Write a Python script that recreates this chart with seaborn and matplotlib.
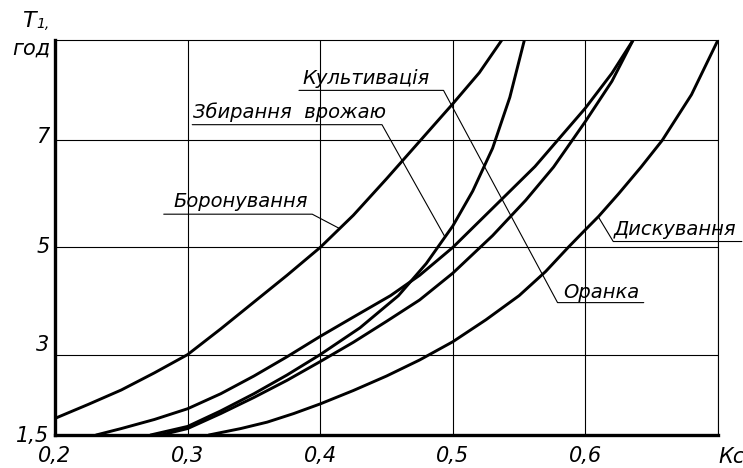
import matplotlib
matplotlib.use('Agg')
import matplotlib.pyplot as plt
import matplotlib.transforms as mtransforms
import seaborn as sns
import pandas as pd

# curves: Kc -> T1 (years)
boron_kc = [0.2, 0.225, 0.25, 0.275, 0.3, 0.325, 0.35, 0.375, 0.4, 0.425,
            0.45, 0.475, 0.5, 0.52, 0.537]
boron_t = [1.81, 2.07, 2.34, 2.66, 3.0, 3.48, 3.98, 4.48, 5.0, 5.6,
           6.28, 6.98, 7.68, 8.26, 8.87]

zbyr_kc = [0.272, 0.3, 0.325, 0.35, 0.375, 0.4, 0.43, 0.459, 0.48, 0.5,
           0.515, 0.53, 0.543, 0.554]
zbyr_t = [1.5, 1.66, 1.95, 2.27, 2.62, 3.0, 3.5, 4.1, 4.7, 5.4,
          6.05, 6.85, 7.8, 8.87]

kult_kc = [0.231, 0.25, 0.275, 0.3, 0.325, 0.35, 0.375, 0.4, 0.425, 0.453,
           0.475, 0.5, 0.53, 0.562, 0.6, 0.62, 0.636]
kult_t = [1.5, 1.62, 1.79, 1.99, 2.27, 2.6, 2.96, 3.34, 3.7, 4.1,
          4.48, 5.0, 5.73, 6.51, 7.6, 8.25, 8.87]

oran_kc = [0.28, 0.3, 0.325, 0.35, 0.375, 0.4, 0.425, 0.45, 0.475, 0.5,
           0.53, 0.555, 0.576, 0.6, 0.62, 0.636]
oran_t = [1.5, 1.62, 1.9, 2.2, 2.52, 2.87, 3.23, 3.62, 4.02, 4.52,
          5.22, 5.88, 6.5, 7.35, 8.1, 8.87]

dysk_kc = [0.316, 0.34, 0.36, 0.38, 0.4, 0.425, 0.45, 0.475, 0.5, 0.525,
           0.55, 0.57, 0.587, 0.6, 0.61, 0.625, 0.642, 0.658, 0.68, 0.7]
dysk_t = [1.5, 1.62, 1.74, 1.9, 2.08, 2.33, 2.6, 2.9, 3.24, 3.65,
          4.1, 4.55, 5.0, 5.33, 5.58, 6.0, 6.5, 7.0, 7.85, 8.87]

x_ticks = [0.2, 0.3, 0.4, 0.5, 0.6, 0.7]
x_labels = ['0,2', '0,3', '0,4', '0,5', '0,6', '']
y_ticks = [1.5, 3, 5, 7]
y_labels = ['1,5', '3', '5', '7']

curves = [(boron_kc, boron_t), (zbyr_kc, zbyr_t), (kult_kc, kult_t),
          (oran_kc, oran_t), (dysk_kc, dysk_t)]

sns.set_theme(style='white')
plt.rcParams['font.family'] = ['DejaVu Sans']
plt.rcParams['text.color'] = 'black'
plt.rcParams['xtick.color'] = 'black'
plt.rcParams['ytick.color'] = 'black'

fig = plt.figure(figsize=(7.43, 4.68), dpi=100)
ax = fig.add_axes([55/743, 33/468, 663/743, 395/468])

for kc, t in curves:
    df = pd.DataFrame({'Kc': kc, 'T': t})
    sns.lineplot(data=df, x='Kc', y='T', ax=ax, color='black', lw=2.1,
                 sort=False, estimator=None)

ax.set_xlim(0.2, 0.7)
ax.set_ylim(1.5, 8.87)
ax.set_xlabel('')
ax.set_ylabel('')

ax.set_xticks(x_ticks)
ax.set_xticklabels(x_labels, fontsize=15, fontstyle='italic')
ax.set_yticks(y_ticks)
ax.set_yticklabels(y_labels, fontsize=15, fontstyle='italic')
ax.tick_params(axis='x', length=0, pad=8)
ax.tick_params(axis='y', length=0, pad=4)
# nudge y labels like the drawing
for lab, dy in zip(ax.get_yticklabels(), [1, 12, 2, 5]):
    lab.set_transform(lab.get_transform() +
                      mtransforms.ScaledTranslation(0, dy/100, fig.dpi_scale_trans))

ax.grid(True, color='black', lw=0.8)
for side in ['left', 'bottom']:
    ax.spines[side].set_linewidth(2.4)
    ax.spines[side].set_color('black')
for side in ['top', 'right']:
    ax.spines[side].set_linewidth(0.8)
    ax.spines[side].set_color('black')

ax.text(0.7, -0.03, 'Кс', transform=ax.get_xaxis_transform(), fontsize=15,
        fontstyle='italic', ha='left', va='top')
fig.text(22/743, 1 - 27/468, 'T', fontsize=16, fontstyle='italic',
         ha='left', va='baseline')
fig.text(36/743, 1 - 28/468, '1,', fontsize=10, fontstyle='italic',
         ha='left', va='baseline')
fig.text(12/743, 1 - 55/468, 'год', fontsize=15, fontstyle='italic',
         ha='left', va='baseline')

# labels with underline leaders
lab_kw = dict(fontsize=14, fontstyle='italic', va='baseline', ha='left')
leader_kw = dict(color='black', lw=0.8, clip_on=False)

ax.text(0.289, 5.75, 'Боронування', **lab_kw)
ax.plot([0.282, 0.394, 0.414], [5.62, 5.62, 5.36], **leader_kw)

ax.text(0.304, 7.42, 'Збирання  врожаю', **lab_kw)
ax.plot([0.3035, 0.4466, 0.494], [7.29, 7.29, 5.2], **leader_kw)

ax.text(0.3865, 8.04, 'Культивація', **lab_kw)
ax.plot([0.384, 0.493, 0.579, 0.644], [7.93, 7.93, 3.97, 3.97], **leader_kw)

ax.text(0.5836, 4.06, 'Оранка', **lab_kw)

ax.text(0.6216, 5.24, 'Дискування', **lab_kw)
ax.plot([0.61, 0.621, 0.718], [5.56, 5.11, 5.11], **leader_kw)

fig.savefig('out.png', dpi=100)
